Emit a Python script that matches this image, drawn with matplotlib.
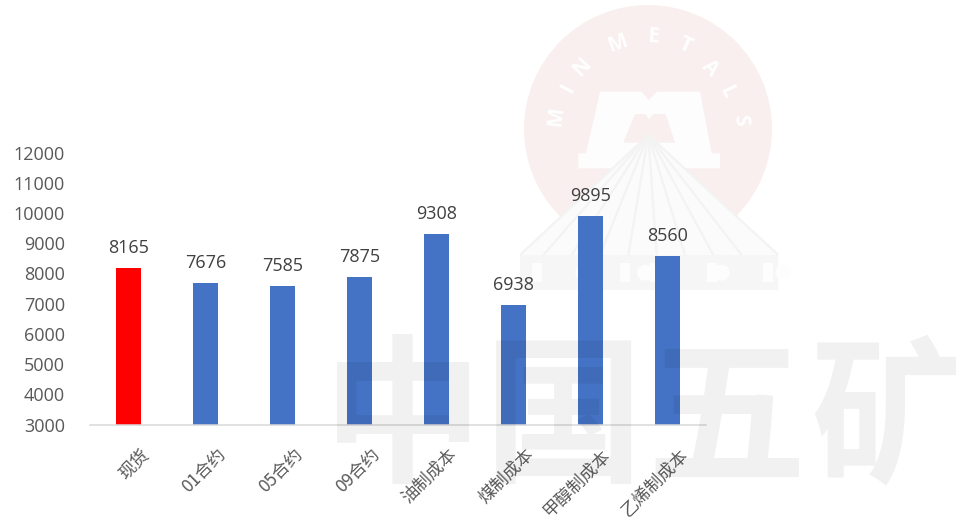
import math

import matplotlib
matplotlib.use("Agg")
import matplotlib.pyplot as plt
from matplotlib.patches import Circle, Polygon, Rectangle
from matplotlib.transforms import ScaledTranslation

plt.rcParams["font.family"] = ["Open Sans", "Noto Sans CJK SC", "DejaVu Sans"]

# values
categories = ["现货", "01合约", "05合约", "09合约", "油制成本", "煤制成本", "甲醇制成本", "乙烯制成本"]
values = [8165, 7676, 7585, 7875, 9308, 6938, 9895, 8560]
bar_colors = ["#FF0000"] + ["#4472C4"] * 7
y_ticks = list(range(3000, 12001, 1000))

# watermark letters and where they sit, in reference pixels
wm_letters = ["M", "I", "N", "M", "E", "T", "A", "L", "S"]
wm_letter_xy = [(556, 117), (568, 88), (582, 67), (617, 43), (653, 37),
                (685, 45), (710, 68), (727, 92), (740, 120)]
wm_chars = ["中", "国", "五", "矿"]
wm_char_x = [403, 564, 726, 890]

W, H = 956, 522
CX, CY = 648, 129
PINK = "#f9efef"


def full_axes(fig, zorder):
    """Axes over the whole figure, in reference pixels."""
    a = fig.add_axes([0, 0, 1, 1], zorder=zorder)
    a.set_xlim(0, W)
    a.set_ylim(H, 0)
    a.axis("off")
    a.patch.set_alpha(0)
    return a


def px(x, y):
    # coordinates taken from the 3x crop of the logo
    return (500 + x / 3, y / 3)


fig = plt.figure(figsize=(W / 100, H / 100), dpi=100, facecolor="white")

# ---- logo below the bars ----
under = full_axes(fig, 0)
under.add_patch(Circle((CX, CY), 124, fc=PINK, ec="none"))
for ch, (lx, ly) in zip(wm_letters, wm_letter_xy):
    rot = -math.degrees(math.atan2(lx - CX, CY - ly))
    under.text(lx, ly, ch, fontsize=15, fontweight="bold", color="white",
               rotation=rot, ha="center", va="center",
               rotation_mode="anchor", family=["Open Sans"])

# the big M
m_shape = [(235, 460), (258, 460), (300, 275), (425, 275), (447, 300), (470, 275),
           (600, 275), (635, 460), (660, 460), (660, 505), (235, 505)]
under.add_patch(Polygon([px(*p) for p in m_shape], fc="#fdfdfd", ec="none"))
m_inner = [(370, 428), (405, 342), (435, 342), (447, 358), (460, 342), (497, 342), (525, 428)]
under.add_patch(Polygon([px(*p) for p in m_inner], fc=PINK, ec="none"))

# fan of rays from the M down to the base band
under.add_patch(Polygon([px(445, 405), px(835, 765), px(835, 870), px(60, 870), px(60, 765)],
                        fc="#fbfbfb", ec="none"))
fan_ends = [60, 130, 215, 300, 385, 470, 555, 640, 725, 835]
for end in fan_ends:
    under.plot(*zip(px(445, 405), px(end, 765)), color="#f3f3f3", lw=1.6, solid_capstyle="butt")
under.add_patch(Rectangle(px(60, 765), 775 / 3, 105 / 3, fc="#f6f6f6", ec="none"))
for bx in [145, 330, 560, 745]:
    under.add_patch(Circle(px(bx + 105, 818), 8, fc="#fdfdfd", ec="none"))
for bx in [95, 360, 450, 620, 790]:
    under.add_patch(Rectangle(px(bx, 790), 30 / 3, 55 / 3, fc="#fdfdfd", ec="none"))

# ---- chart ----
left, right = 90, 706
bottom, top = 424.5, 152.5
ax = fig.add_axes([left / W, 1 - bottom / H, (right - left) / W, (bottom - top) / H], zorder=1)
ax.patch.set_alpha(0)

pos = list(range(len(categories)))
bars = ax.bar(pos, values, width=0.32, color=bar_colors, edgecolor="none")
ax.set_xlim(-0.5, 7.5)
ax.set_ylim(3000, 12000)
ax.set_yticks(y_ticks)
ax.set_xticks(pos)
ax.set_xticklabels(categories, rotation=45, ha="right", va="top", rotation_mode="anchor",
                   fontsize=12.5, color="#595959", family=["Noto Sans CJK SC", "DejaVu Sans"])
ax.tick_params(axis="y", length=0, pad=18, labelsize=13, labelcolor="#595959")
ax.tick_params(axis="x", length=0, pad=15)

# move the rotated labels a bit to the right of the bar centre
shift = ScaledTranslation(8 / 72, 0, fig.dpi_scale_trans)
for lab in ax.get_xticklabels():
    lab.set_transform(lab.get_transform() + shift)

for s in ["top", "right", "left"]:
    ax.spines[s].set_visible(False)
ax.spines["bottom"].set_color("#d9d9d9")
ax.spines["bottom"].set_linewidth(1.1)

for bar, val in zip(bars, values):
    ax.annotate(str(val), (bar.get_x() + bar.get_width() / 2, val), xytext=(0, 8),
                textcoords="offset points", ha="center", va="bottom",
                fontsize=13, color="#404040")

# ---- watermark above the bars ----
over = full_axes(fig, 2)
for ch, x in zip(wm_chars, wm_char_x):
    over.text(x, 423, ch, fontsize=115, fontweight="bold", color="black", alpha=0.055,
              ha="center", va="center", family=["Noto Sans CJK SC"], clip_on=True)

fig.savefig("out.png", dpi=100)
